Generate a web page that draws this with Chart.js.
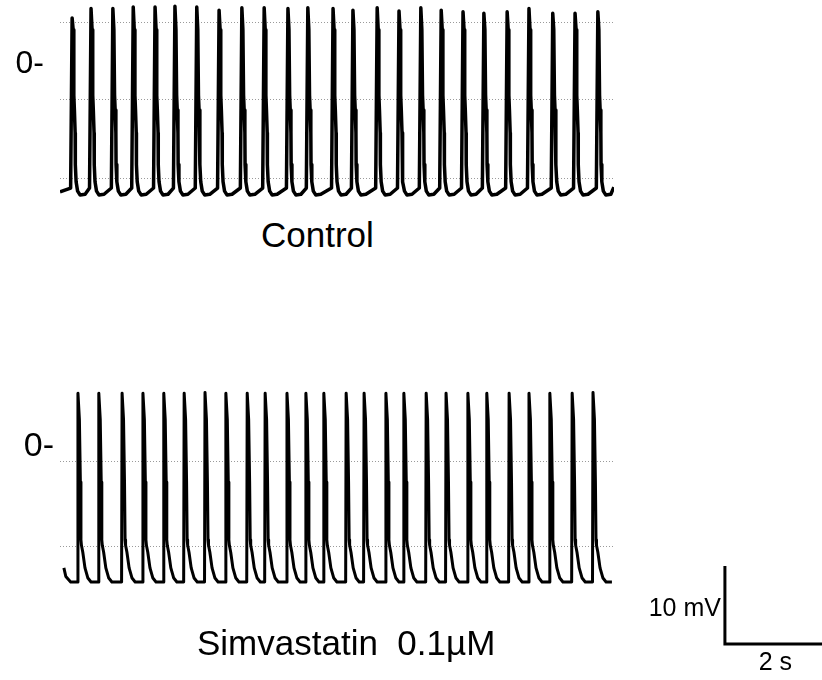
<!DOCTYPE html>
<html>
<head>
<meta charset="utf-8">
<script src="https://cdn.jsdelivr.net/npm/chart.js@4.4.0/dist/chart.umd.min.js"></script>
<style>
  html, body { margin: 0; padding: 0; background: #fff; }
  #wrap { position: relative; width: 822px; height: 680px; overflow: hidden; font-family: "Liberation Sans", Arial, sans-serif; }
  #wrap canvas { position: absolute; left: 0; }
  .legenda { position: absolute; font-size: 35px; line-height: 35px; white-space: pre; color: #000; }
</style>
</head>
<body>
<div id="wrap">
  <canvas id="controle" width="822" height="215" style="top:0"></canvas>
  <canvas id="simva" width="822" height="310" style="top:370px"></canvas>
  <div class="legenda" style="left:261px; top:217px">Control</div>
  <div class="legenda" style="left:197px; top:625px">Simvastatin  0.1µM</div>
</div>
<script>
// Disparos do traçado Controle: tempo do pico (s) e valor do pico (mV)
const controlSpikeTimes = [0.25, 0.64, 1.09, 1.51, 1.96, 2.37, 2.82, 3.28, 3.75, 4.21, 4.70, 5.11, 5.63,
  6.04, 6.54, 6.99, 7.44, 7.86, 8.31, 8.74, 9.22, 9.67, 10.16, 10.62, 11.09];
const controlPeaks = [5.9, 7.1, 7.1, 7.3, 7.3, 7.4, 7.3, 6.9, 7.2, 7.2, 7.1, 7.2, 7.1,
  6.9, 7.2, 6.8, 7.2, 6.9, 6.7, 6.5, 6.7, 7.1, 6.5, 6.5, 6.7];
// forma de um potencial de ação (ms em relação ao pico, mV); o índice 1 é o pico
const controlShapeMs = [-31, 0, 21, 35, 47, 62, 66, 82, 113, 165, 268];
const controlShapeMv = [-15.9, 0, 4.4, -4.0, -5.9, -8.8, -12.9, -15.1, -16.3, -16.8, -16.7];
const controlLeadT = [0];
const controlLeadV = [-16.4];
const controlEnd = [11.42, -15.8];
const controlGrid = [5.26, 0, -4.49, -14.74];

// Disparos do traçado Simvastatina
const simvaSpikeTimes = [0.37, 0.80, 1.28, 1.71, 2.14, 2.56, 2.99, 3.42, 3.86, 4.23, 4.68, 5.07, 5.44,
  5.90, 6.27, 6.72, 7.09, 7.55, 7.96, 8.41, 8.80, 9.26, 9.67, 10.10, 10.56, 10.99];
const simvaPeaks = [6.9, 6.9, 6.9, 6.9, 6.9, 6.9, 7.0, 6.9, 6.9, 6.9, 6.9, 6.9, 6.9,
  6.9, 6.9, 6.9, 6.9, 6.9, 6.9, 6.9, 6.9, 6.9, 6.9, 6.9, 6.9, 7.0];
const simvaShapeMs = [-10, 0, 30, 50, 62, 72, 100, 145, 205, 270];
const simvaShapeMv = [-17.3, 0, 3.5, -4.5, -11.9, -12.6, -13.5, -15.5, -16.8, -17.3];
const simvaLeadT = [0.08, 0.12, 0.22];
const simvaLeadV = [-15.5, -16.6, -17.3];
const simvaEnd = [11.38, -17.3];
const simvaGrid = [0, -1.92, -12.82];

// Barra de escala
const scaleBarT0 = 13.71;
const scaleBarV0 = -25.26;
const scaleBarMv = 10;
const scaleBarSec = 2;

const tMax = 11.423;
const fonte = '"Liberation Sans", Arial, sans-serif';

// Monta os pontos do traçado a partir dos disparos
function montarTracado(leadT, leadV, times, peaks, shapeMs, shapeMv, fim) {
  const pts = leadT.map((t, i) => ({ x: t, y: leadV[i] }));
  times.forEach((t, i) => {
    shapeMs.forEach((ms, k) => {
      pts.push({ x: t + ms / 1000, y: k === 1 ? peaks[i] : shapeMv[k] });
    });
  });
  pts.push({ x: fim[0], y: fim[1] });
  return pts;
}

// Plugin da barra de escala (10 mV / 2 s)
const barraEscala = {
  id: 'barraEscala',
  afterDraw(chart) {
    const { ctx, scales: { x, y } } = chart;
    const x0 = x.getPixelForValue(scaleBarT0);
    const x1 = x.getPixelForValue(scaleBarT0 + scaleBarSec);
    const y0 = y.getPixelForValue(scaleBarV0);
    const y1 = y.getPixelForValue(scaleBarV0 + scaleBarMv);
    ctx.save();
    ctx.strokeStyle = '#000';
    ctx.lineWidth = 3;
    ctx.beginPath();
    ctx.moveTo(x0, y1);
    ctx.lineTo(x0, y0);
    ctx.lineTo(x1 + 4, y0);
    ctx.stroke();
    ctx.fillStyle = '#000';
    ctx.font = '25px ' + fonte;
    ctx.textBaseline = 'alphabetic';
    ctx.textAlign = 'right';
    ctx.fillText('10 mV', x0 - 4, (y0 + y1) / 2 + 11);
    ctx.textAlign = 'center';
    ctx.fillText('2 s', (x0 + x1) / 2 + 2, y0 + 26);
    ctx.restore();
  }
};

function criarGrafico(id, dados, espessura, grade, yMin, yMax, padding, labelPad, tamFonte, plugins) {
  return new Chart(document.getElementById(id), {
    type: 'line',
    data: {
      datasets: [{
        data: dados,
        borderColor: '#000',
        borderWidth: espessura,
        borderJoinStyle: 'round',
        pointRadius: 0,
        tension: 0,
        fill: false
      }]
    },
    options: {
      responsive: false,
      animation: false,
      devicePixelRatio: 1,
      layout: { padding: padding },
      plugins: { legend: { display: false }, tooltip: { enabled: false } },
      scales: {
        x: { type: 'linear', min: 0, max: tMax, display: false },
        y: {
          min: yMin,
          max: yMax,
          afterBuildTicks: s => { s.ticks = grade.map(v => ({ value: v })); },
          afterFit: s => { s.width = 60; s.paddingTop = 0; s.paddingBottom = 0; },
          ticks: {
            autoSkip: false,
            padding: labelPad,
            color: '#000',
            font: { family: fonte, size: tamFonte },
            callback: v => (v === 0 ? '0-' : '')
          },
          grid: {
            drawTicks: false,
            lineWidth: 1,
            color: c => (c.tick && c.tick.value === 0 ? 'rgba(0,0,0,0)' : '#9a9a9a')
          },
          border: { display: false, dash: [1, 2] }
        }
      }
    },
    plugins: plugins
  });
}

const tracadoControle = montarTracado(controlLeadT, controlLeadV, controlSpikeTimes, controlPeaks,
  controlShapeMs, controlShapeMv, controlEnd);
const tracadoSimva = montarTracado(simvaLeadT, simvaLeadV, simvaSpikeTimes, simvaPeaks,
  simvaShapeMs, simvaShapeMv, simvaEnd);

criarGrafico('controle', tracadoControle, 3.5, controlGrid, -18.077, 8.205,
  { top: 0, bottom: 10, left: 0, right: 208 }, 16, 32, []);
criarGrafico('simva', tracadoSimva, 3, simvaGrid, -19.615, 9.231,
  { top: 5, bottom: 80, left: 0, right: 208 }, 6, 34, [barraEscala]);
</script>
</body>
</html>
